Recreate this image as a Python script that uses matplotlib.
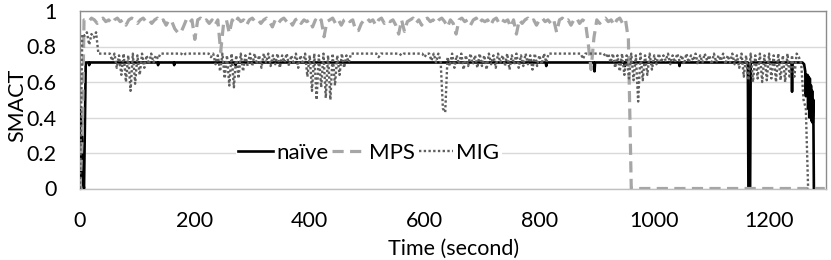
import matplotlib
matplotlib.use("Agg")
import matplotlib.pyplot as plt
import numpy as np

plt.rcParams['font.family'] = ['Lato', 'DejaVu Sans']

# naive: sparse (time, value) pairs, mostly flat at 0.71
naive_t = [0, 1, 3, 5, 7, 10, 15, 16, 17, 135, 136, 137, 163, 164, 165,
           270, 271, 272, 811, 812, 813, 895, 896, 897, 948, 949, 950,
           1043, 1044, 1045, 1163, 1164, 1167, 1168, 1239, 1240, 1241,
           1258, 1261, 1263, 1264, 1265, 1266, 1267, 1268, 1269, 1270,
           1271, 1272, 1273, 1274, 1275, 1276, 1277, 1278, 1286]
naive_v = [0.0, 0.44, 0.30, 0.05, 0.0, 0.71, 0.71, 0.695, 0.71, 0.71, 0.695, 0.71, 0.71, 0.695, 0.71,
           0.71, 0.695, 0.71, 0.71, 0.69, 0.71, 0.71, 0.66, 0.71, 0.71, 0.69, 0.71,
           0.71, 0.69, 0.71, 0.71, 0.0, 0.0, 0.71, 0.71, 0.545, 0.71,
           0.71, 0.70, 0.66, 0.52, 0.64, 0.55, 0.64, 0.45, 0.63, 0.40,
           0.62, 0.42, 0.58, 0.38, 0.55, 0.37, 0.50, 0.0, 0.0]

# MPS: head, 5 s samples from t=10 to 955, tail at zero
mps_head_t = [0, 4, 7]
mps_head_v = [0.0, 0.30, 0.95]
mps_t0, mps_dt = 10, 5
mps_v = [
    0.95, 0.94, 0.96, 0.95, 0.93, 0.95, 0.96, 0.94, 0.95, 0.93,   # 10-55
    0.95, 0.96, 0.94, 0.95, 0.92, 0.95, 0.96, 0.95, 0.93, 0.95,   # 60-105
    0.96, 0.94, 0.95, 0.93, 0.95, 0.96, 0.94, 0.95, 0.92, 0.95,   # 110-155
    0.94, 0.90, 0.88, 0.875, 0.91, 0.95, 0.93, 0.95, 0.84, 0.95,  # 160-205
    0.96, 0.94, 0.95, 0.93, 0.95, 0.92, 0.95, 0.77, 0.93, 0.95,   # 210-255
    0.875, 0.95, 0.93, 0.96, 0.94, 0.95, 0.92, 0.95, 0.96, 0.94,  # 260-305
    0.95, 0.93, 0.95, 0.96, 0.94, 0.91, 0.95, 0.93, 0.95, 0.96,   # 310-355
    0.94, 0.95, 0.92, 0.95, 0.96, 0.93, 0.95, 0.94, 0.95, 0.91,   # 360-405
    0.95, 0.93, 0.95, 0.855, 0.94, 0.95, 0.96, 0.93, 0.95, 0.92,  # 410-455
    0.95, 0.96, 0.94, 0.95, 0.89, 0.89, 0.93, 0.95, 0.96, 0.94,   # 460-505
    0.95, 0.92, 0.95, 0.96, 0.93, 0.95, 0.94, 0.95, 0.92, 0.87,   # 510-555
    0.95, 0.885, 0.94, 0.95, 0.96, 0.93, 0.95, 0.92, 0.95, 0.96,  # 560-605
    0.94, 0.95, 0.93, 0.95, 0.96, 0.94, 0.91, 0.95, 0.93, 0.87,   # 610-655
    0.95, 0.96, 0.94, 0.95, 0.92, 0.95, 0.96, 0.93, 0.95, 0.94,   # 660-705
    0.95, 0.92, 0.95, 0.96, 0.93, 0.95, 0.94, 0.95, 0.91, 0.95,   # 710-755
    0.87, 0.95, 0.93, 0.95, 0.96, 0.94, 0.95, 0.92, 0.95, 0.96,   # 760-805
    0.94, 0.95, 0.93, 0.95, 0.88, 0.95, 0.96, 0.94, 0.95, 0.92,   # 810-855
    0.95, 0.96, 0.93, 0.95, 0.94, 0.82, 0.67, 0.85, 0.95, 0.93,   # 860-905
    0.95, 0.96, 0.94, 0.95, 0.92, 0.95, 0.96, 0.93, 0.95, 0.84,   # 910-955
]
mps_tail_t = [960, 1297]
mps_tail_v = [0.0, 0.0]

# MIG: 4 s samples from t=0
mig_dt = 4
mig_v = [
    0.00, 0.87, 0.86, 0.88, 0.81, 0.87, 0.85, 0.88, 0.76, 0.76,   # 0-36
    0.76, 0.76, 0.76, 0.76, 0.72, 0.76, 0.68, 0.75, 0.64, 0.76,   # 40-76
    0.60, 0.75, 0.55, 0.76, 0.59, 0.75, 0.64, 0.76, 0.68, 0.75,   # 80-116
    0.70, 0.76, 0.71, 0.75, 0.73, 0.76, 0.76, 0.76, 0.76, 0.76,   # 120-156
    0.76, 0.76, 0.76, 0.76, 0.76, 0.75, 0.76, 0.76, 0.76, 0.76,   # 160-196
    0.76, 0.76, 0.76, 0.76, 0.76, 0.76, 0.76, 0.74, 0.76, 0.70,   # 200-236
    0.75, 0.66, 0.76, 0.62, 0.75, 0.58, 0.76, 0.57, 0.75, 0.62,   # 240-276
    0.76, 0.66, 0.75, 0.69, 0.76, 0.69, 0.76, 0.70, 0.75, 0.68,   # 280-316
    0.76, 0.71, 0.76, 0.69, 0.75, 0.70, 0.76, 0.68, 0.75, 0.71,   # 320-356
    0.76, 0.69, 0.75, 0.70, 0.76, 0.68, 0.75, 0.70, 0.76, 0.63,   # 360-396
    0.75, 0.55, 0.76, 0.50, 0.75, 0.57, 0.76, 0.51, 0.75, 0.50,   # 400-436
    0.76, 0.58, 0.75, 0.64, 0.76, 0.68, 0.75, 0.71, 0.76, 0.76,   # 440-476
    0.76, 0.76, 0.76, 0.76, 0.76, 0.76, 0.76, 0.76, 0.76, 0.76,   # 480-516
    0.74, 0.76, 0.76, 0.76, 0.76, 0.76, 0.76, 0.76, 0.76, 0.76,   # 520-556
    0.75, 0.76, 0.76, 0.76, 0.76, 0.76, 0.76, 0.76, 0.76, 0.76,   # 560-596
    0.74, 0.76, 0.76, 0.72, 0.76, 0.71, 0.76, 0.72, 0.45, 0.43,   # 600-636
    0.74, 0.69, 0.76, 0.68, 0.75, 0.70, 0.76, 0.67, 0.75, 0.69,   # 640-676
    0.76, 0.70, 0.75, 0.68, 0.76, 0.69, 0.75, 0.67, 0.76, 0.70,   # 680-716
    0.75, 0.68, 0.76, 0.71, 0.75, 0.69, 0.76, 0.67, 0.75, 0.70,   # 720-756
    0.76, 0.68, 0.75, 0.69, 0.76, 0.70, 0.75, 0.67, 0.76, 0.69,   # 760-796
    0.75, 0.70, 0.76, 0.71, 0.76, 0.76, 0.76, 0.76, 0.76, 0.76,   # 800-836
    0.76, 0.76, 0.76, 0.76, 0.76, 0.76, 0.76, 0.76, 0.76, 0.73,   # 840-876
    0.76, 0.76, 0.76, 0.76, 0.76, 0.76, 0.76, 0.76, 0.76, 0.74,   # 880-916
    0.76, 0.71, 0.76, 0.68, 0.75, 0.66, 0.76, 0.64, 0.75, 0.62,   # 920-956
    0.76, 0.61, 0.75, 0.49, 0.76, 0.61, 0.75, 0.64, 0.76, 0.67,   # 960-996
    0.75, 0.70, 0.76, 0.71, 0.75, 0.72, 0.76, 0.70, 0.75, 0.71,   # 1000-1036
    0.76, 0.72, 0.75, 0.70, 0.76, 0.71, 0.75, 0.72, 0.76, 0.70,   # 1040-1076
    0.75, 0.71, 0.76, 0.72, 0.75, 0.70, 0.76, 0.71, 0.75, 0.72,   # 1080-1116
    0.76, 0.70, 0.75, 0.71, 0.76, 0.70, 0.75, 0.68, 0.76, 0.63,   # 1120-1156
    0.75, 0.61, 0.76, 0.60, 0.75, 0.62, 0.76, 0.60, 0.75, 0.61,   # 1160-1196
    0.76, 0.62, 0.75, 0.60, 0.76, 0.61, 0.75, 0.60, 0.76, 0.62,   # 1200-1236
    0.75, 0.63, 0.76, 0.74, 0.70, 0.50, 0.45, 0.00,               # 1240-1268
]

y_ticks = [0, 0.2, 0.4, 0.6, 0.8, 1]
x_ticks = [0, 200, 400, 600, 800, 1000, 1200]

mps_t = np.concatenate([mps_head_t, mps_t0 + mps_dt * np.arange(len(mps_v)), mps_tail_t])
mps_all = np.concatenate([mps_head_v, mps_v, mps_tail_v])
mig_t = mig_dt * np.arange(len(mig_v))

fig = plt.figure(figsize=(8.31, 2.6), dpi=100)
ax = fig.add_axes([80 / 831, 71.5 / 260, 746.5 / 831, 177.5 / 260])

ax.plot(naive_t, naive_v, color='black', lw=1.9, label='naïve', zorder=3)
ax.plot(mps_t, mps_all, color='#a6a6a6', lw=2.3, dashes=(3.5, 2), label='MPS', zorder=4)
ax.plot(mig_t, mig_v, color='#5f5f5f', lw=1.7, dashes=(1, 1), label='MIG', zorder=5)

ax.set_xlim(0, 1300)
ax.set_ylim(0, 1)
ax.set_xticks(x_ticks)
ax.set_yticks(y_ticks)
ax.set_yticklabels([f"{v:g}" for v in y_ticks])
ax.tick_params(length=0, labelsize=15.5, colors='#000000')
ax.tick_params(axis='y', pad=17)
ax.tick_params(axis='x', pad=16)
ax.grid(axis='y', color='#d9d9d9', lw=1)
ax.set_axisbelow(True)
for s in ax.spines.values():
    s.set_color('#8c8c8c')
    s.set_linewidth(1)
ax.spines['bottom'].set_color('#bfbfbf')

ax.set_xlabel("Time (second)", fontsize=15.5, labelpad=5.5)
ax.set_ylabel("SMACT", fontsize=15.5)
ax.yaxis.set_label_coords(-0.071, 0.47)

leg = ax.legend(loc='center', bbox_to_anchor=(0.387, 0.2), ncol=3, fontsize=16,
                frameon=True, facecolor='white', edgecolor='none', framealpha=1,
                handlelength=1.55, handletextpad=0.15, columnspacing=0.15,
                borderpad=0.1, borderaxespad=0)

fig.savefig("out.png", dpi=100)
